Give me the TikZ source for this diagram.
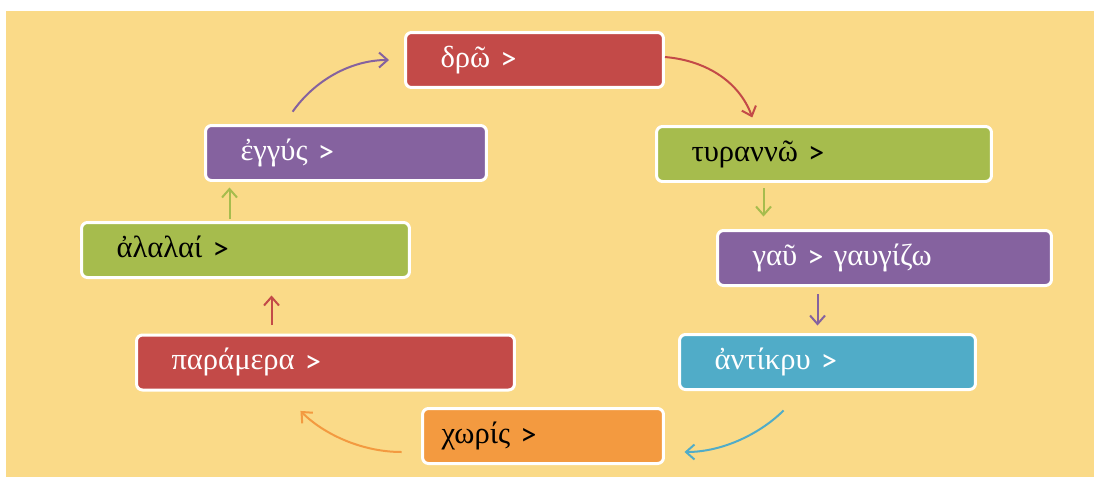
\documentclass[tikz,border=0pt]{standalone}
\usepackage{fontspec}
\setmainfont{Liberation Serif}
\newfontfamily\grfont{Liberation Serif}
\newfontfamily\signfont{Carlito}
\usepackage{xcolor}
\usetikzlibrary{arrows.meta, positioning, calc}
\definecolor{bgyellow}{RGB}{250,218,136}
\definecolor{boxred}{RGB}{195,74,72}
\definecolor{boxgreen}{RGB}{166,188,77}
\definecolor{boxpurple}{RGB}{133,98,159}
\definecolor{boxblue}{RGB}{80,172,200}
\definecolor{boxorange}{RGB}{243,154,64}
\newcommand{\gtsign}{\raisebox{-0.05cm}{\signfont\fontsize{18.5}{19}\selectfont >}}
\newcommand{\etym}[1]{{\grfont #1}\ \gtsign}

\begin{document}
\begin{tikzpicture}[
  x=0.02cm, y=-0.02cm,
  block/.style={draw=white, line width=0.06cm, rounded corners=0.12cm,
                minimum height=1.1cm, inner xsep=0.7cm, inner ysep=0pt,
                text width=#1, align=left, text height=0.40cm, text depth=0.12cm},
  arr/.style={-{Straight Barb[length=0.17cm, width=0.3cm]}, line width=0.04cm},
  every node/.style={font=\fontsize{17.4}{20}\selectfont}
]
  \useasboundingbox (0,0) rectangle (1094,477);
  \fill[bgyellow] (6,11) rectangle (1094,477);

  % Blocks -- one per word, round the cycle
  \node[block=3.76cm, fill=boxred, text=white] (dro) at (534.5,60) {\etym{δρῶ}};
  \node[block=5.30cm, fill=boxgreen] (tyr) at (824,154) {\etym{τυραννῶ}};
  \node[block=5.28cm, fill=boxpurple, text=white] (gau) at (884.5,258) {{\grfont γαῦ} \gtsign{} {\grfont γαυγίζω}};
  \node[block=4.52cm, fill=boxblue, text=white] (antikry) at (827.5,362) {\etym{ἀντίκρυ}};
  \node[block=4.06cm, fill=boxorange, inner xsep=0.38cm] (choris) at (543,436) {\etym{χωρίς}};
  \node[block=6.16cm, fill=boxred, text=white] (paramera) at (325.5,362.5) {\etym{παράμερα}};
  \node[block=5.16cm, fill=boxgreen] (alalai) at (245.5,250) {\etym{ἀλαλαί}};
  \node[block=4.22cm, fill=boxpurple, text=white] (eggys) at (346,153) {\etym{ἐγγύς}};

  % Arrows -- coloured like the block they leave
  \coordinate (t2g) at ([xshift=2.17cm]tyr.south west);
  \coordinate (g2a) at ([xshift=2.03cm]gau.south west);
  \coordinate (p2a) at ([xshift=2.73cm]paramera.north west);
  \coordinate (a2e) at ([xshift=2.99cm]alalai.north west);
  \draw[arr, boxpurple, shorten <=0.3cm, shorten >=0.3cm]
    ([xshift=1.6cm]eggys.north west) to[out=55, in=180] (dro.west);
  \draw[arr, boxred, shorten >=0.16cm]
    ([yshift=0.06cm]dro.east) to[out=-5, in=110] ([xshift=2.0cm]tyr.north west);
  \draw[arr, boxgreen, shorten <=0.11cm, shorten >=0.25cm] (t2g) -- (t2g |- gau.north);
  \draw[arr, boxpurple, shorten <=0.15cm, shorten >=0.15cm] (g2a) -- (g2a |- antikry.north);
  \draw[arr, boxblue, shorten <=0.55cm, shorten >=0.39cm]
    ([xshift=2.5cm]antikry.south west) to[out=-135, in=0] ([yshift=-0.32cm]choris.east);
  \draw[arr, boxorange, shorten <=0.39cm, shorten >=0.55cm]
    ([yshift=-0.32cm]choris.west) to[out=180, in=-45] ([xshift=2.92cm]paramera.south west);
  \draw[arr, boxred, shorten <=0.17cm, shorten >=0.33cm] (p2a) -- (p2a |- alalai.south);
  \draw[arr, boxgreen, shorten <=0.04cm, shorten >=0.11cm] (a2e) -- (a2e |- eggys.south);
\end{tikzpicture}
\end{document}
